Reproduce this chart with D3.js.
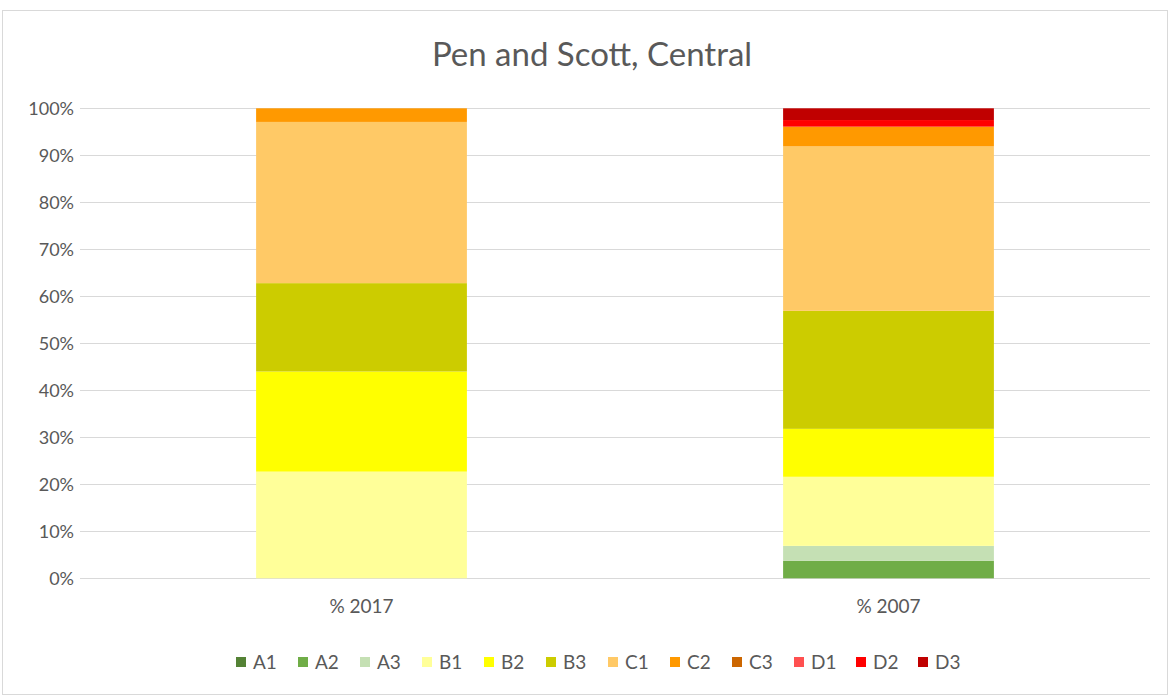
<!DOCTYPE html>
<html>
<head>
<meta charset="utf-8">
<script src="https://cdn.jsdelivr.net/npm/d3@7"></script>
<style>
  html, body { margin: 0; padding: 0; background: #fff; }
  svg { display: block; font-family: Lato, "Open Sans", sans-serif; }
</style>
</head>
<body>
<svg id="chart" width="1171" height="697"></svg>
<script>
// Share of each class, per survey year (percent)
const categories = ["% 2017", "% 2007"];
const seriesNames = ["A1", "A2", "A3", "B1", "B2", "B3", "C1", "C2", "C3", "D1", "D2", "D3"];
const seriesColors = ["#548235", "#70AD47", "#C5E0B4", "#FFFF99", "#FFFF00", "#CCCC00",
                      "#FFC966", "#FF9900", "#CC6600", "#FF5050", "#FF0000", "#C00000"];
const values2017 = [0, 0, 0, 22.7, 21.3, 18.8, 34.3, 2.9, 0, 0, 0, 0];
const values2007 = [0, 3.7, 3.2, 14.7, 10.2, 25.1, 35.0, 4.2, 0, 0, 1.4, 2.5];
const yTicks = [0, 10, 20, 30, 40, 50, 60, 70, 80, 90, 100];
const title = "Pen and Scott, Central";

const svg = d3.select("#chart");

// outer chart frame
svg.append("rect")
  .attr("x", 2.5).attr("y", 10.5).attr("width", 1165).attr("height", 684)
  .attr("fill", "#fff").attr("stroke", "#D9D9D9").attr("stroke-width", 1);

const plot = { left: 98, right: 1152, top: 108.3, bottom: 578.3 };

// build rows as percent-normalised stacks
const rows = categories.map((c, i) => {
  const vals = i === 0 ? values2017 : values2007;
  const row = { category: c };
  const total = d3.sum(vals);
  seriesNames.forEach((s, j) => { row[s] = vals[j] / total * 100; });
  return row;
});

const stacked = d3.stack().keys(seriesNames)(rows);

const x = d3.scaleBand().domain(categories).range([plot.left, plot.right]).paddingInner(0.6).paddingOuter(0.3);
const y = d3.scaleLinear().domain([0, 100]).range([plot.bottom, plot.top]);
const color = d3.scaleOrdinal().domain(seriesNames).range(seriesColors);

// gridlines
svg.append("g")
  .selectAll("line")
  .data(yTicks)
  .join("line")
  .attr("x1", plot.left - 18).attr("x2", plot.right - 2)
  .attr("y1", d => Math.round(y(d)) + 0.5).attr("y2", d => Math.round(y(d)) + 0.5)
  .attr("stroke", "#D9D9D9").attr("stroke-width", 1);

// y axis labels
const yAxis = svg.append("g")
  .attr("transform", `translate(${plot.left - 24},0)`)
  .call(d3.axisLeft(y).tickValues(yTicks).tickFormat(d => d + "%").tickSize(0).tickPadding(0));
yAxis.select(".domain").remove();
yAxis.selectAll("text")
  .attr("fill", "#595959").attr("font-size", 18).attr("font-family", "Lato, 'Open Sans', sans-serif")
  .attr("dy", "0.35em");

// stacked bars
svg.append("g")
  .selectAll("g")
  .data(stacked)
  .join("g")
  .attr("fill", d => color(d.key))
  .selectAll("rect")
  .data(d => d)
  .join("rect")
  .attr("x", d => x(d.data.category))
  .attr("width", x.bandwidth())
  .attr("y", d => y(d[1]))
  .attr("height", d => Math.max(0, y(d[0]) - y(d[1])));

// x axis labels
const xAxis = svg.append("g")
  .attr("transform", `translate(0,${plot.bottom + 21})`)
  .call(d3.axisBottom(x).tickSize(0).tickPadding(0));
xAxis.select(".domain").remove();
xAxis.selectAll("text")
  .attr("fill", "#595959").attr("font-size", 19).attr("font-family", "Lato, 'Open Sans', sans-serif")
  .attr("dy", "0.71em");

// title
svg.append("text")
  .attr("x", 592).attr("y", 66)
  .attr("text-anchor", "middle")
  .attr("fill", "#595959").attr("font-size", 33)
  .text(title);

// legend
const legend = svg.append("g")
  .selectAll("g")
  .data(seriesNames)
  .join("g")
  .attr("transform", (d, i) => `translate(${236 + i * 62},${657})`);
legend.append("rect")
  .attr("width", 10).attr("height", 10)
  .attr("fill", d => color(d));
legend.append("text")
  .attr("x", 17).attr("y", 5).attr("dy", "0.35em")
  .attr("fill", "#595959").attr("font-size", 19)
  .text(d => d);
</script>
</body>
</html>
